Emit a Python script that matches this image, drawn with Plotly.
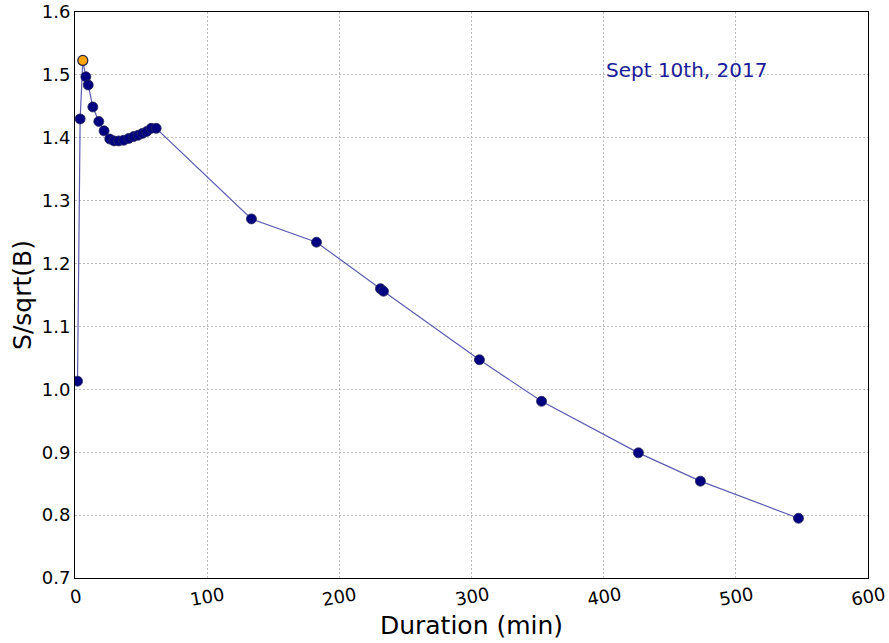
import plotly.graph_objects as go

duration = [1.9, 3.9, 5.9, 8.2, 10.0, 13.5, 18.0, 22.0, 26.3, 29.6, 33.1, 36.9,
            40.7, 44.5, 47.8, 51.0, 54.3, 57.6, 61.4, 133.5, 182.7, 231.1, 233.4,
            306.0, 353.0, 426.3, 473.2, 547.4]
significance = [1.013, 1.430, 1.523, 1.497, 1.484, 1.449, 1.426, 1.411, 1.398, 1.395,
                1.395, 1.396, 1.399, 1.402, 1.404, 1.407, 1.410, 1.415, 1.415, 1.271,
                1.234, 1.160, 1.156, 1.047, 0.981, 0.899, 0.854, 0.795]
x_ticks = [0, 100, 200, 300, 400, 500, 600]
y_ticks = [0.7, 0.8, 0.9, 1.0, 1.1, 1.2, 1.3, 1.4, 1.5, 1.6]
date_label = "Sept 10th, 2017"

best = max(range(len(significance)), key=lambda i: significance[i])
others_x = [d for i, d in enumerate(duration) if i != best]
others_y = [s for i, s in enumerate(significance) if i != best]

font = "DejaVu Sans, sans-serif"

fig = go.Figure()
fig.add_trace(go.Scatter(
    x=duration, y=significance, mode="lines",
    line=dict(color="#5c5cb0", width=1.2), hoverinfo="skip", showlegend=False))
fig.add_trace(go.Scatter(
    x=others_x, y=others_y, mode="markers",
    marker=dict(color="#000080", size=10, line=dict(color="#2a2a5a", width=0.8)),
    showlegend=False))
fig.add_trace(go.Scatter(
    x=[duration[best]], y=[significance[best]], mode="markers",
    marker=dict(color="#ffa500", size=10, line=dict(color="#222244", width=1.2)),
    showlegend=False))

fig.add_annotation(x=400, y=1.508, text=date_label, showarrow=False,
                   xanchor="left", yanchor="middle",
                   font=dict(family=font, size=20, color="#1a1a99"))

# x tick labels, tilted about their centres
for v in x_ticks:
    fig.add_annotation(x=v, xref="x", y=0, yref="paper", text=str(v), showarrow=False,
                       xanchor="center", yanchor="middle", yshift=-18, textangle=-10,
                       font=dict(family=font, size=18, color="black"))

axis_common = dict(showline=True, linecolor="black", linewidth=1, mirror=True,
                   showgrid=True, gridcolor="#bdbdbd", griddash="2px,2px", gridwidth=1,
                   zeroline=False, ticks="", automargin=False,
                   tickfont=dict(family=font, size=18, color="black"))

fig.update_xaxes(range=[0, 600], tickvals=x_ticks, showticklabels=False,
                 title=dict(text="Duration (min)", font=dict(family=font, size=25, color="black"),
                            standoff=38),
                 **axis_common)
fig.update_yaxes(range=[0.7, 1.6], tickvals=y_ticks, ticktext=[f"{v:.1f}" for v in y_ticks],
                 title=dict(text="S/sqrt(B)", font=dict(family=font, size=25, color="black"),
                            standoff=3),
                 **axis_common)

fig.update_layout(width=889, height=643, margin=dict(l=75, r=21, t=12, b=65),
                  plot_bgcolor="white", paper_bgcolor="white", showlegend=False)

fig.write_html("out.html")
